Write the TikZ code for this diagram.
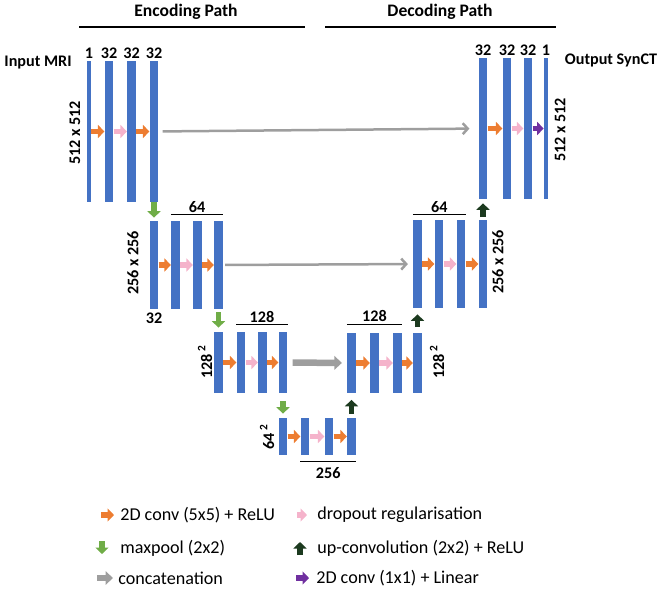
\documentclass[tikz,border=0pt]{standalone}
\usepackage{fontspec}
\setmainfont{Carlito}
\usetikzlibrary{arrows.meta,calc,positioning}

\definecolor{barblue}{HTML}{4472C4}
\definecolor{convorange}{HTML}{ED7D31}
\definecolor{droppink}{HTML}{F5B3CB}
\definecolor{poolgreen}{HTML}{70AD47}
\definecolor{updark}{HTML}{1C3A1F}
\definecolor{linpurple}{HTML}{7030A0}
\definecolor{catgray}{HTML}{9E9E9E}

\tikzset{
  bar/.style={rectangle, fill=barblue, inner sep=0pt, minimum width=0.17cm},
  thinbar/.style={bar, minimum width=0.08cm},
  lev1/.style={minimum height=2.82cm},
  lev2/.style={minimum height=1.76cm},
  lev3/.style={minimum height=1.22cm},
  lev4/.style={minimum height=0.74cm},
  lbl/.style={font=\fontsize{9.2}{10}\selectfont\bfseries, inner sep=1pt},
  rlbl/.style={lbl, rotate=90},
  head/.style={font=\fontsize{10}{12}\selectfont\bfseries},
  headline/.style={line width=1.7pt},
  chan/.style={line width=0.6pt},
  blk/.style={line width=0.11cm, -{Triangle[width=0.26cm,length=0.13cm]}},
  conv/.style={blk, convorange},
  drop/.style={blk, droppink},
  lin/.style={blk, linpurple},
  pool/.style={blk, poolgreen},
  upconv/.style={blk, updark},
  concat/.style={catgray, line width=0.05cm, -{Straight Barb[length=0.1cm,width=0.22cm]}},
  bigconcat/.style={catgray, line width=0.13cm, -{Triangle[width=0.27cm,length=0.15cm]}},
  legend/.style={font=\fontsize{10.3}{12}\selectfont, anchor=west, inner sep=0pt},
}

\begin{document}
\begin{tikzpicture}[x=0.02cm,y=-0.02cm]
\useasboundingbox (0,0) rectangle (666,595);

% path titles
\node[head] (enc) at (186,12) {Encoding Path};
\node[head] (dec) at (440,12) {Decoding Path};
\draw[headline] (79,27) -- (305,27);
\draw[headline] (325,27) -- (556,27);

% encoder, level 1
\node[thinbar,lev1] (e11) at (89,131.5) {};
\node[bar,lev1] (e12) at (109,131.5) {};
\node[bar,lev1] (e13) at (131.5,131.5) {};
\node[bar,lev1] (e14) at (154,131.5) {};
% encoder, level 2
\node[bar,lev2] (e21) at (154,265) {};
\node[bar,lev2] (e22) at (175.5,265) {};
\node[bar,lev2] (e23) at (197.5,265) {};
\node[bar,lev2] (e24) at (218.5,265) {};
% encoder, level 3
\node[bar,lev3] (e31) at (218.5,362.5) {};
\node[bar,lev3] (e32) at (241,362.5) {};
\node[bar,lev3] (e33) at (262.5,362.5) {};
\node[bar,lev3] (e34) at (283,362.5) {};
% bottleneck
\node[bar,lev4] (b41) at (283,436.5) {};
\node[bar,lev4] (b42) at (305,436.5) {};
\node[bar,lev4] (b43) at (329,436.5) {};
\node[bar,lev4] (b44) at (351.5,436.5) {};
% decoder, level 3
\node[bar,lev3] (d31) at (351.5,363) {};
\node[bar,lev3] (d32) at (374.5,363) {};
\node[bar,lev3] (d33) at (397.5,363) {};
\node[bar,lev3] (d34) at (417.5,363) {};
% decoder, level 2
\node[bar,lev2] (d21) at (417.5,264) {};
\node[bar,lev2] (d22) at (439,264) {};
\node[bar,lev2] (d23) at (461,264) {};
\node[bar,lev2] (d24) at (483,264) {};
% decoder, level 1
\node[bar,lev1] (d11) at (483,128.5) {};
\node[bar,lev1] (d12) at (507,128.5) {};
\node[bar,lev1] (d13) at (528,128.5) {};
\node[thinbar,lev1] (d14) at (546,128.5) {};

% conv / dropout steps
\draw[conv] (e11) -- (e12);
\draw[drop] (e12) -- (e13);
\draw[conv] (e13) -- (e14);
\draw[conv] (e21) -- (e22);
\draw[drop] (e22) -- (e23);
\draw[conv] (e23) -- (e24);
\draw[conv] (e31) -- (e32);
\draw[drop] (e32) -- (e33);
\draw[conv] (e33) -- (e34);
\draw[conv] (b41) -- (b42);
\draw[drop] (b42) -- (b43);
\draw[conv] (b43) -- (b44);
\draw[conv] (d31) -- (d32);
\draw[drop] (d32) -- (d33);
\draw[conv] (d33) -- (d34);
\draw[conv] (d21) -- (d22);
\draw[drop] (d22) -- (d23);
\draw[conv] (d23) -- (d24);
\draw[conv] (d11) -- (d12);
\draw[drop] (d12) -- (d13);
\draw[lin] (d13) -- (d14);

% maxpool and up-convolution
\draw[pool, shorten >=0.06cm] (e14) -- (e21);
\draw[pool, shorten <=0.06cm, shorten >=0.08cm] (e24) -- (e31);
\draw[pool, shorten <=0.16cm, shorten >=0.08cm] (e34) -- (b41);
\draw[upconv, shorten <=0.08cm, shorten >=0.12cm] (b44) -- (d31);
\draw[upconv, shorten <=0.1cm, shorten >=0.12cm] (d34) -- (d21);
\draw[upconv, shorten <=0.05cm, shorten >=0.08cm] (d24) -- (d11);

% skip connections
\draw[concat, shorten <=0.08cm, shorten >=0.18cm] (e14) -- (d11);
\draw[concat, shorten <=0.04cm, shorten >=0.1cm] (e24) -- (d21);
\draw[bigconcat, shorten <=0.1cm, shorten >=0.1cm] (e34) -- (d31);

% channel counts
\node[lbl, above=0pt] at (e11.north) {1};
\node[lbl, above=0pt] at (e12.north) {32};
\node[lbl, above=0pt] at (e13.north) {32};
\node[lbl, above=0pt] at (e14.north) {32};
\node[lbl, above=0pt] at (d11.north) {32};
\node[lbl, above=0pt] at (d12.north) {32};
\node[lbl, above=0pt] at (d13.north) {32};
\node[lbl, above=0pt] at (d14.north) {1};
\node[lbl, below=1pt] at (e21.south) {32};
\draw[chan] ([yshift=0.12cm]e22.north west) -- node[lbl, above] {64} ([yshift=0.12cm]e24.north east);
\draw[chan] ([yshift=0.1cm]d21.north west) -- node[lbl, above] {64} ([yshift=0.1cm]d23.north east);
\draw[chan] ([yshift=0.14cm]e32.north west) -- node[lbl, above] {128} ([yshift=0.14cm]e34.north east);
\draw[chan] ([yshift=0.16cm]d31.north west) -- node[lbl, above] {128} ([yshift=0.16cm]d33.north east);
\draw[chan] ([yshift=-0.12cm]b42.south west) -- node[lbl, below=2pt] {256} ([yshift=-0.12cm]b44.south east);

% image sizes
\node[lbl] (inp) at (38,63) {Input MRI};
\node[lbl] (out) at (611,60) {Output SynCT};
\node[rlbl] (s1e) at (75,133) {512 x 512};
\node[rlbl] (s1d) at (560,130) {512 x 512};
\node[rlbl] (s2e) at (133,263) {256 x 256};
\node[rlbl] (s2d) at (498,262) {256 x 256};
\node[rlbl] (s3e) at (205,362) {128\,\textsuperscript{2}};
\node[rlbl] (s3d) at (437,362) {128\,\textsuperscript{2}};
\node[rlbl] (s4) at (267,437) {64\,\textsuperscript{2}};

% legend
\node[legend] (lconv) at (120,515) {2D conv (5x5) + ReLU};
\node[legend] (lpool) at (120,548) {maxpool (2x2)};
\node[legend] (lcat) at (118,578) {concatenation};
\node[legend] (ldrop) at (317,515) {dropout regularisation};
\node[legend] (lup) at (317,548) {up-convolution (2x2) + ReLU};
\node[legend] (llin) at (316,578) {2D conv (1x1) + Linear};
\draw[conv] ($(lconv.west)+(-19,0)$) -- ++(13,0);
\draw[pool] ($(lpool.west)+(-18,-7)$) -- ++(0,13);
\draw[bigconcat] ($(lcat.west)+(-21,0)$) -- ++(16,0);
\draw[drop] ($(ldrop.west)+(-20,0)$) -- ++(10,0);
\draw[upconv] ($(lup.west)+(-17,7)$) -- ++(0,-13);
\draw[lin] ($(llin.west)+(-20,0)$) -- ++(13,0);
\end{tikzpicture}
\end{document}
